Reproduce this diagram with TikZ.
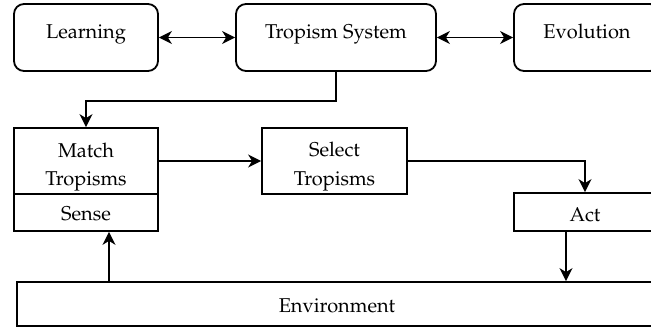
\documentclass[tikz,border=0pt]{standalone}
\usepackage[T1]{fontenc}
\usepackage{mathpazo}
\usetikzlibrary{arrows.meta}
\begin{document}
\begin{tikzpicture}[x=1pt,y=-1pt,
  font=\fontsize{20}{28.4}\selectfont,
  base/.style={draw, line width=1.8pt, inner sep=0pt, align=center},
  roundbox/.style={base, rounded corners=10pt},
  squarebox/.style={base},
  arr/.style={line width=1.6pt, -{Stealth[length=13pt,width=13pt,inset=4pt]}},
  dbl/.style={line width=1.6pt, {Stealth[length=13pt,width=13pt,inset=4pt]}-{Stealth[length=13pt,width=13pt,inset=4pt]}}]
\useasboundingbox (0,0) rectangle (651,329);
\clip (0,0) rectangle (651,329);

% top row
\node[roundbox, minimum width=144pt, minimum height=67pt, text height=13pt, text depth=10pt] (learn) at (86,37.5) {Learning};
\node[roundbox, minimum width=200pt, minimum height=67pt, text height=13pt, text depth=10pt] (tsys) at (336,37.5) {Tropism System};
\node[roundbox, minimum width=146pt, minimum height=67pt, text height=13pt, text depth=11pt] (evol) at (587,37.5) {Evolution};

% middle row
\node[squarebox, minimum width=144pt, minimum height=66pt, text height=49.4pt, text depth=0pt] (match) at (86,161) {Match\\Tropisms};
\node[squarebox, minimum width=144pt, minimum height=37pt, text height=15pt, text depth=0pt] (sense) at (86,212.5) {Sense};
\node[squarebox, minimum width=145pt, minimum height=66pt, text height=48pt, text depth=0pt] (select) at (334.5,161) {Select\\Tropisms};
\node[squarebox, minimum width=142pt, minimum height=38pt, text height=18pt, text depth=0pt] (act) at (585,212) {Act};

% environment
\node[squarebox, minimum width=640pt, minimum height=44pt, text height=17pt, text depth=0.4pt] (env) at (337,304) {Environment};

% connectors
\draw[dbl] (learn) -- (tsys);
\draw[dbl] (tsys) -- (evol);
\draw[arr] (tsys.south) -- ++(0,29) -| (match.north);
\draw[arr] (match.east) -- (select.west);
\draw[arr] (select.east) -| (act.north);
\coordinate (actout) at ([xshift=-19pt]act.south);
\draw[arr] (actout) -- (actout |- env.north);
\coordinate (sensein) at ([xshift=23pt]sense.south);
\draw[arr] (sensein |- env.north) -- (sensein);
\end{tikzpicture}
\end{document}
